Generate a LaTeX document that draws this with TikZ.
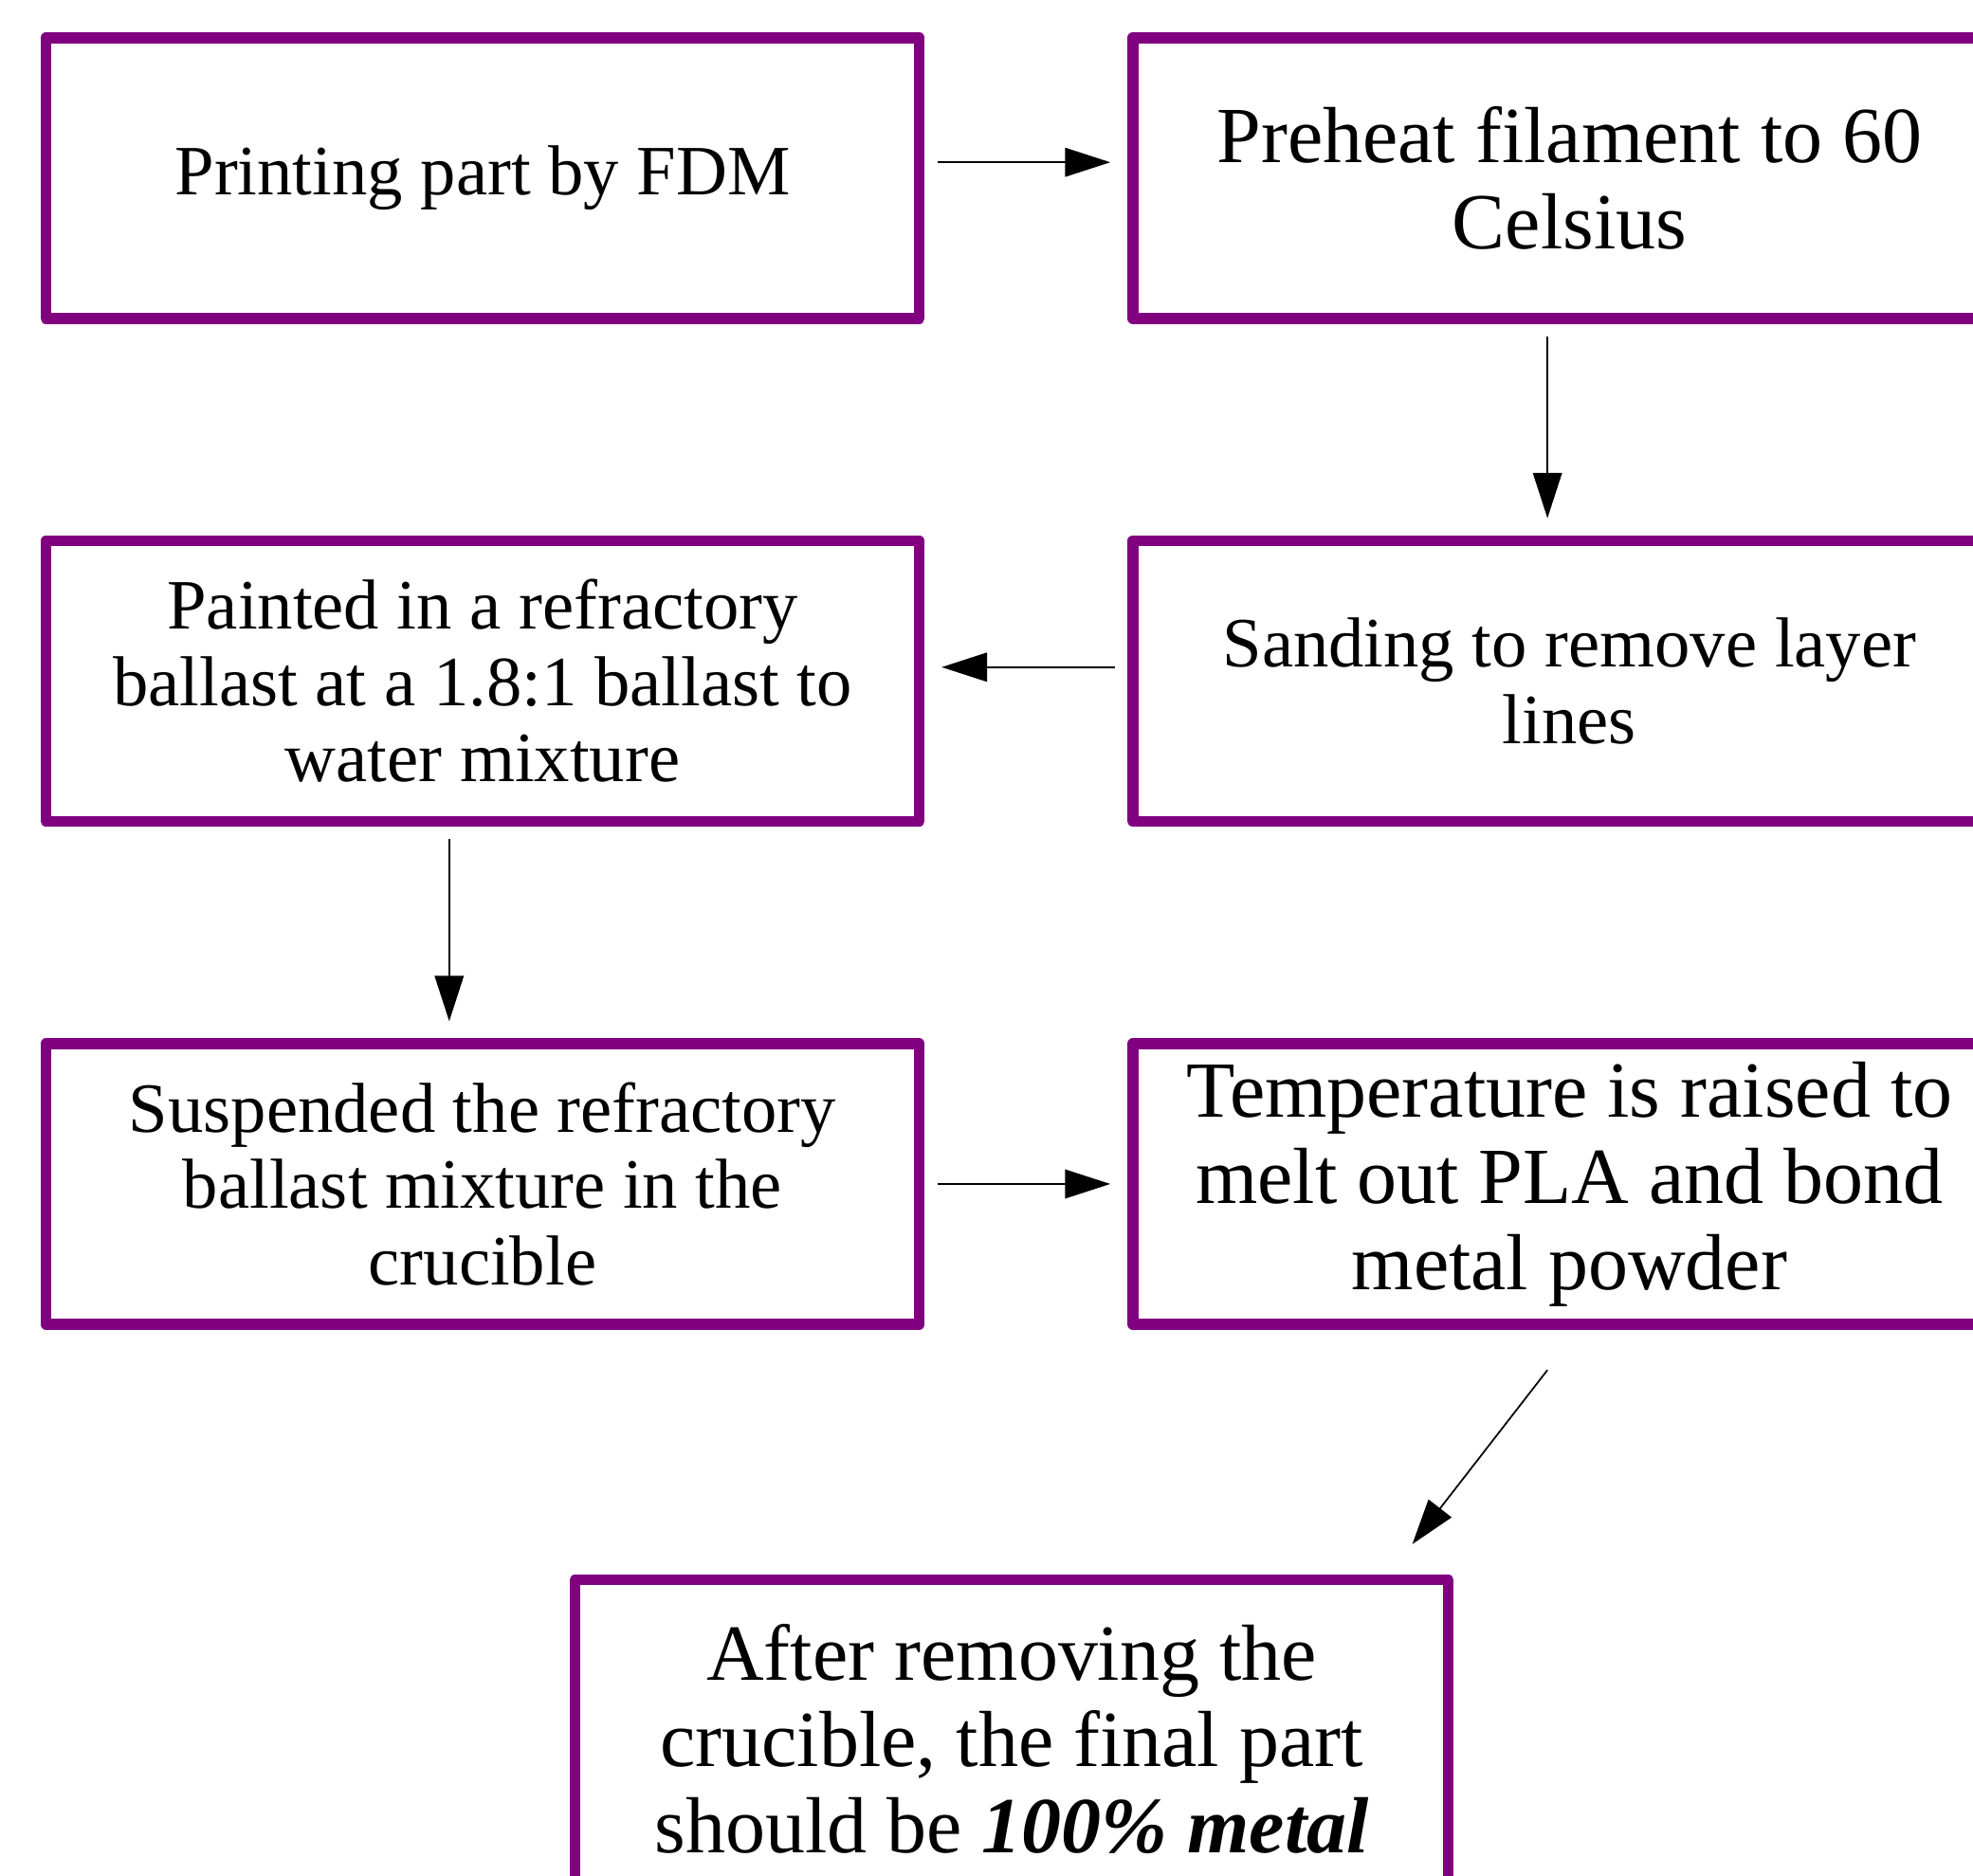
\documentclass[tikz,border=0pt]{standalone}
\usepackage{fontspec}
\setmainfont{Liberation Serif}
\usepackage{tikz}
\usetikzlibrary{arrows.meta,positioning}
\definecolor{boxpurple}{RGB}{128,0,128}

\begin{document}
\begin{tikzpicture}[
      node distance=3.36cm and 3.22cm,
      box/.style={draw=boxpurple,line width=5pt,line join=round,align=center,minimum width=13.88cm,minimum height=4.46cm,inner sep=0pt,font=\fontsize{32}{34.6}\selectfont},
      bigbox/.style={box,font=\fontsize{36}{39}\selectfont},
      arrow/.style={-{Triangle[length=0.72cm,width=0.46cm]},line width=0.75pt,draw=black,shorten <=0.2cm,shorten >=0.27cm}
    ]
      \useasboundingbox (0,0) rectangle (31.36,-29.82);
      \clip (0,0) rectangle (31.36,-29.82);

      \node[box] (print) at (7.67,-2.83) {Printing part by FDM};
      \node[bigbox,right=of print] (preheat) {Preheat filament to 60\\Celsius};
      \node[box,below=of print] (paint) {Painted in a refractory\\ballast at a 1.8:1 ballast to\\water mixture};
      \node[box,below=of preheat] (sand) {Sanding to remove layer\\lines};
      \node[box,below=of paint] (susp) {Suspended the refractory\\ballast mixture in the\\crucible};
      \node[bigbox,below=of sand] (temp) {Temperature is raised to\\melt out PLA and bond\\metal powder};
      \node[bigbox,minimum height=5.05cm] (final) at (16.08,-27.64) {After removing the\\crucible, the final part\\should be \textbf{\textit{100\% metal}}};

      \draw[arrow] ([yshift=0.25cm]print.east) -- ([yshift=0.25cm]preheat.west);
      \draw[arrow] ([xshift=-0.35cm]preheat.south) -- ([xshift=-0.35cm]sand.north);
      \draw[arrow] ([yshift=0.22cm]sand.west) -- ([yshift=0.22cm]paint.east);
      \draw[arrow] ([xshift=-0.53cm]paint.south) -- ([xshift=-0.53cm]susp.north);
      \draw[arrow] (susp.east) -- (temp.west);
      \draw[arrow,shorten <=0pt,shorten >=0pt] ([xshift=-0.35cm,yshift=-0.64cm]temp.south) -- ([xshift=-0.66cm,yshift=0.48cm]final.north east);
    \end{tikzpicture}
\end{document}
